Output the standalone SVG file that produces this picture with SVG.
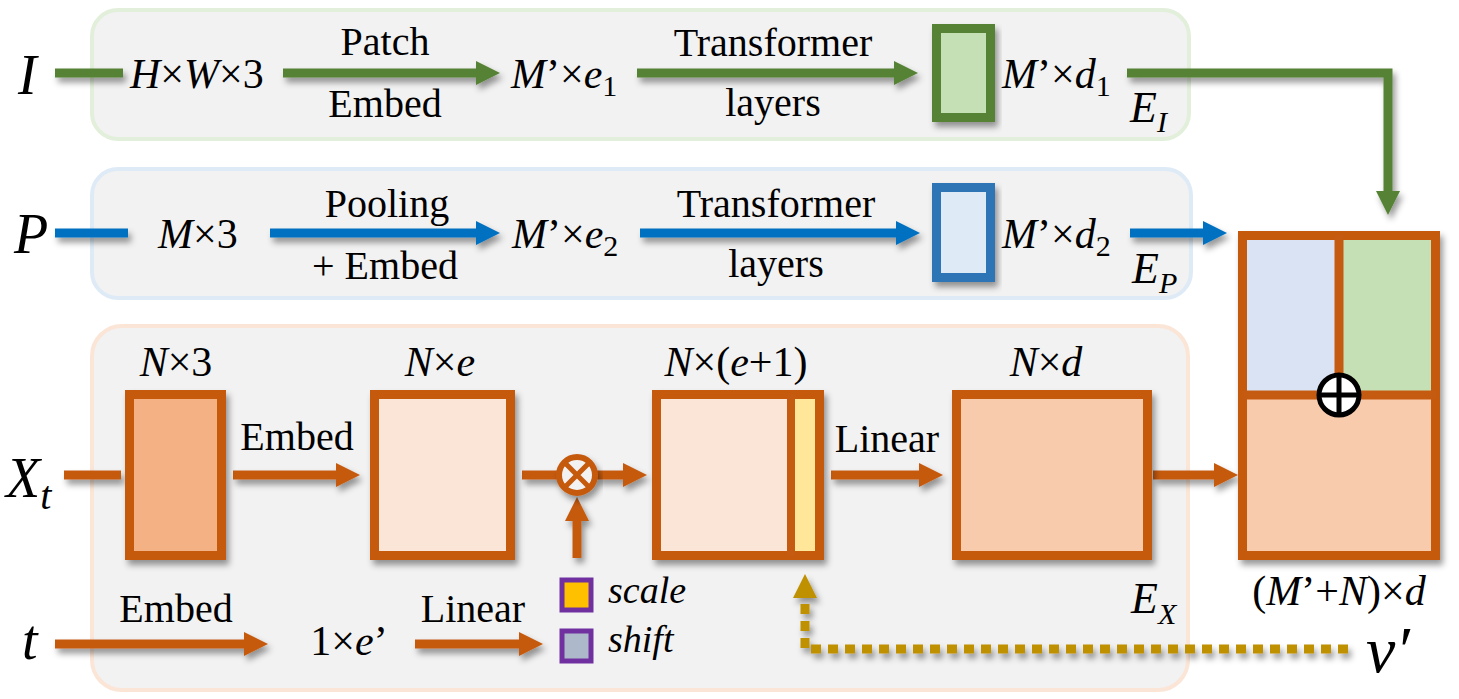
<svg xmlns="http://www.w3.org/2000/svg" width="1459" height="699" viewBox="0 0 1459 699">
<defs>
<style>
text{font-family:"Liberation Serif","Times New Roman",serif;fill:#000;}
.lbl{font-size:40px;text-anchor:middle;}
.m{font-size:42px;}
.mc{font-size:42px;text-anchor:middle;}
.it{font-style:italic;}
.big{font-size:56px;font-style:italic;}
.panel{fill:#f2f2f2;stroke-width:4;}
.ln{fill:none;stroke-width:9;}
.g{stroke:#548235;}
.b{stroke:#0070c0;}
.o{stroke:#c55a11;}
.box{stroke-width:9;}
</style>
<filter id="sh" x="-20%" y="-20%" width="140%" height="160%">
<feDropShadow dx="3" dy="5" stdDeviation="3" flood-color="#000" flood-opacity="0.4"/>
</filter>
<marker id="ag" viewBox="0 0 24 24" refX="12" refY="12" markerWidth="24" markerHeight="24" markerUnits="userSpaceOnUse" orient="auto"><path d="M0,0L24,12L0,24z" fill="#548235"/></marker>
<marker id="ab" viewBox="0 0 24 24" refX="12" refY="12" markerWidth="24" markerHeight="24" markerUnits="userSpaceOnUse" orient="auto"><path d="M0,0L24,12L0,24z" fill="#0070c0"/></marker>
<marker id="ao" viewBox="0 0 24 24" refX="12" refY="12" markerWidth="24" markerHeight="24" markerUnits="userSpaceOnUse" orient="auto"><path d="M0,0L24,12L0,24z" fill="#c55a11"/></marker>
<marker id="ay" viewBox="0 0 24 24" refX="4" refY="12" markerWidth="24" markerHeight="24" markerUnits="userSpaceOnUse" orient="auto"><path d="M0,0L24,12L0,24z" fill="#bf9000"/></marker>
</defs>
<rect width="1459" height="699" fill="#fff"/>

<g id="panel-image"><rect class="panel" x="92" y="10" width="1097" height="129" rx="26" stroke="#e2efda"/></g>
<g id="panel-pose"><rect class="panel" x="92" y="169" width="1099" height="129" rx="26" stroke="#deebf7"/></g>
<g id="panel-x"><rect class="panel" x="92" y="326" width="1096" height="364" rx="30" stroke="#fbe5d6"/></g>

<g id="connectors" filter="url(#sh)">
<path class="ln g" d="M55,73H123"/>
<path class="ln g" d="M283,73H488" marker-end="url(#ag)"/>
<path class="ln g" d="M637,73H906" marker-end="url(#ag)"/>
<path class="ln g" d="M1127,73H1388V203" marker-end="url(#ag)"/>
<path class="ln b" d="M55,233H128"/>
<path class="ln b" d="M270,233H488" marker-end="url(#ab)"/>
<path class="ln b" d="M640,233H908" marker-end="url(#ab)"/>
<path class="ln b" d="M1130,233H1215" marker-end="url(#ab)"/>
<path class="ln o" d="M64,475H121"/>
<path class="ln o" d="M233,475H348" marker-end="url(#ao)"/>
<path class="ln o" d="M522,475H559"/>
<path class="ln o" d="M595,475H635" marker-end="url(#ao)"/>
<path class="ln o" d="M577,558V509" marker-end="url(#ao)"/>
<path class="ln o" d="M831,475H931" marker-end="url(#ao)"/>
<path class="ln o" d="M1153,475H1226" marker-end="url(#ao)"/>
<path class="ln o" d="M55,644H256" marker-end="url(#ao)"/>
<path class="ln o" d="M415,644H531" marker-end="url(#ao)"/>
<path d="M1348,649H805V594" fill="none" stroke="#bf9000" stroke-width="9" stroke-dasharray="10 7" marker-end="url(#ay)"/>
</g>

<g id="node-I"><text class="big" x="18" y="94">I</text></g>
<g id="node-HW3"><text class="m" x="130" y="88"><tspan class="it">H</tspan>×<tspan class="it">W</tspan>×3</text></g>
<g id="label-patch"><text class="lbl" x="385" y="55">Patch</text><text class="lbl" x="385" y="117">Embed</text></g>
<g id="node-Me1"><text class="m" x="511" y="88"><tspan class="it">M</tspan>’×<tspan class="it">e</tspan><tspan font-size="30" dy="8">1</tspan></text></g>
<g id="label-tr1"><text class="lbl" x="773" y="56">Transformer</text><text class="lbl" x="773" y="116">layers</text></g>
<g id="node-EI-box"><rect class="box" x="936.5" y="28.5" width="54" height="89" fill="#c5e0b4" stroke="#548235" filter="url(#sh)"/></g>
<g id="node-Md1"><text class="m" x="1002" y="88"><tspan class="it">M</tspan>’×<tspan class="it">d</tspan><tspan font-size="30" dy="8">1</tspan></text></g>
<g id="label-EI"><text class="it" font-size="44" x="1130" y="122">E<tspan font-size="30" dy="10">I</tspan></text></g>

<g id="node-P"><text class="big" x="14" y="253">P</text></g>
<g id="node-M3"><text class="m" x="158" y="248"><tspan class="it">M</tspan>×3</text></g>
<g id="label-pool"><text class="lbl" x="387" y="217">Pooling</text><text class="lbl" x="385" y="279">+ Embed</text></g>
<g id="node-Me2"><text class="m" x="512" y="248"><tspan class="it">M</tspan>’×<tspan class="it">e</tspan><tspan font-size="30" dy="8">2</tspan></text></g>
<g id="label-tr2"><text class="lbl" x="776" y="217">Transformer</text><text class="lbl" x="776" y="277">layers</text></g>
<g id="node-EP-box"><rect class="box" x="936.5" y="187.5" width="54" height="90" fill="#deebf7" stroke="#2e75b6" filter="url(#sh)"/></g>
<g id="node-Md2"><text class="m" x="1002" y="248"><tspan class="it">M</tspan>’×<tspan class="it">d</tspan><tspan font-size="30" dy="8">2</tspan></text></g>
<g id="label-EP"><text class="it" font-size="44" x="1132" y="283">E<tspan font-size="30" dy="10">P</tspan></text></g>

<g id="node-Xt"><text class="big" x="6" y="497">X<tspan font-size="40" dy="12">t</tspan></text></g>
<g id="node-N3"><rect class="box o" x="129.5" y="394.5" width="92" height="161" fill="#f4b183" filter="url(#sh)"/><text class="mc" x="176" y="376"><tspan class="it">N</tspan>×3</text></g>
<g id="label-embed2"><text class="lbl" x="297" y="450">Embed</text></g>
<g id="node-Ne"><rect class="box o" x="374.5" y="394.5" width="136" height="161" fill="#fbe5d6" filter="url(#sh)"/><text class="mc" x="440" y="376"><tspan class="it">N</tspan>×<tspan class="it">e</tspan></text></g>
<g id="node-otimes" filter="url(#sh)"><circle cx="577" cy="475" r="18" fill="#f2f2f2" stroke="#c55a11" stroke-width="6"/><path d="M564.3,462.3L589.7,487.7M589.7,462.3L564.3,487.7" stroke="#c55a11" stroke-width="5"/></g>
<g id="node-Ne1"><rect class="box o" x="656.5" y="394.5" width="163" height="161" fill="#fbe5d6" filter="url(#sh)"/><rect x="795" y="399" width="20" height="152" fill="#ffe699"/><path d="M791,394V556" stroke="#c55a11" stroke-width="8"/><text class="mc" x="736" y="376"><tspan class="it">N</tspan>×(<tspan class="it">e</tspan>+1)</text></g>
<g id="label-linear1"><text class="lbl" x="887" y="452">Linear</text></g>
<g id="node-Nd"><rect class="box o" x="956.5" y="394.5" width="191" height="161" fill="#f8cbad" filter="url(#sh)"/><text class="mc" x="1046" y="376"><tspan class="it">N</tspan>×<tspan class="it">d</tspan></text></g>
<g id="label-EX"><text class="it" font-size="44" x="1131" y="613">E<tspan font-size="30" dy="11">X</tspan></text></g>

<g id="node-out">
<rect x="1242.5" y="235.5" width="193" height="320" fill="#f8cbad" stroke="#c55a11" stroke-width="9" filter="url(#sh)"/>
<rect x="1247" y="240" width="92" height="155" fill="#dae3f3"/>
<rect x="1339" y="240" width="92" height="155" fill="#c5e0b4"/>
<path d="M1339,235V395M1242,395H1436" stroke="#c55a11" stroke-width="9" fill="none"/>
<circle cx="1339" cy="395" r="20" fill="#fff" stroke="#000" stroke-width="5"/>
<path d="M1339,375V415M1319,395H1359" stroke="#000" stroke-width="5"/>
<text class="mc" x="1339" y="605">(<tspan class="it">M</tspan>’+<tspan class="it">N</tspan>)×<tspan class="it">d</tspan></text>
</g>

<g id="node-t"><text class="big" x="22" y="659">t</text></g>
<g id="label-embed3"><text class="lbl" x="176" y="622">Embed</text></g>
<g id="node-1e"><text class="mc" x="349" y="655">1×<tspan class="it">e</tspan>’</text></g>
<g id="label-linear2"><text class="lbl" x="473" y="622">Linear</text></g>
<g id="node-scale"><rect x="562" y="580" width="29" height="30" fill="#ffc000" stroke="#7030a0" stroke-width="5"/><text class="it" font-size="38" x="608" y="603">scale</text></g>
<g id="node-shift"><rect x="562" y="631" width="29" height="30" fill="#adb9ca" stroke="#7030a0" stroke-width="5"/><text class="it" font-size="38" x="608" y="652">shift</text></g>
<g id="node-nu"><text class="it" font-size="66" x="1366" y="672">ν′</text></g>
</svg>
